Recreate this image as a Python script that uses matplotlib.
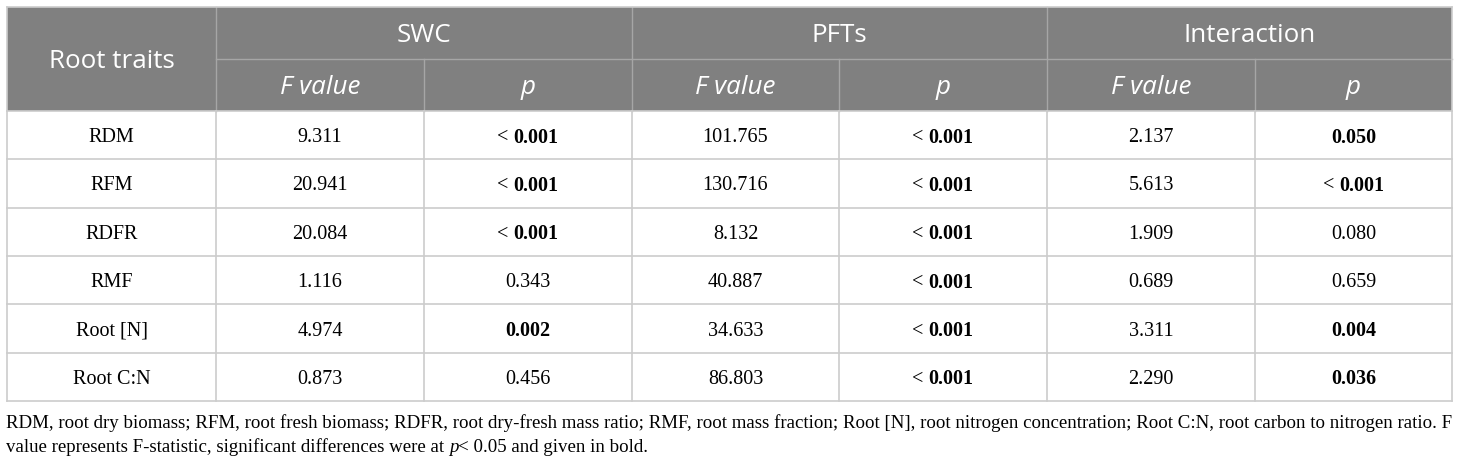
import matplotlib.pyplot as plt

traits = ["RDM", "RFM", "RDFR", "RMF", "Root [N]", "Root C:N"]
groups = ["SWC", "PFTs", "Interaction"]

swc_f = ["9.311", "20.941", "20.084", "1.116", "4.974", "0.873"]
swc_p = ["< 0.001", "< 0.001", "< 0.001", "0.343", "0.002", "0.456"]
swc_bold = [True, True, True, False, True, False]

pft_f = ["101.765", "130.716", "8.132", "40.887", "34.633", "86.803"]
pft_p = ["< 0.001", "< 0.001", "< 0.001", "< 0.001", "< 0.001", "< 0.001"]
pft_bold = [True, True, True, True, True, True]

int_f = ["2.137", "5.613", "1.909", "0.689", "3.311", "2.290"]
int_p = ["0.050", "< 0.001", "0.080", "0.659", "0.004", "0.036"]
int_bold = [True, True, False, False, True, True]

caption1 = ("RDM, root dry biomass; RFM, root fresh biomass; RDFR, root dry-fresh mass ratio; "
            "RMF, root mass fraction; Root [N], root nitrogen concentration; "
            "Root C:N, root carbon to nitrogen ratio. F")
caption2a = "value represents F-statistic, significant differences were at "
caption2b = "p"
caption2c = "< 0.05 and given in bold."

W, H = 1460, 463
fig = plt.figure(figsize=(W / 100, H / 100), dpi=100)
ax = fig.add_axes([0, 0, 1, 1])
ax.set_xlim(0, W)
ax.set_ylim(H, 0)
ax.axis("off")

col_x = [7, 216, 424, 632, 839, 1047, 1255, 1452]
top, mid, head_bot = 7, 59, 111
row_h = (401 - head_bot) / len(traits)
row_y = [head_bot + i * row_h for i in range(len(traits) + 1)]

head_bg = "#808080"
grid = "#cccccc"
head_line = "#a6a6a6"
sans = "Open Sans"
serif = "Liberation Serif"
hsize = 18.7
csize = 14.5

# header background
ax.add_patch(plt.Rectangle((col_x[0], top), col_x[-1] - col_x[0], head_bot - top,
                           facecolor=head_bg, edgecolor="none", zorder=1))
# header lines
ax.plot([col_x[1], col_x[-1]], [mid, mid], color=head_line, lw=1, zorder=2)
for i, x in enumerate(col_x[1:-1], start=1):
    y0 = top if i % 2 == 1 else mid
    ax.plot([x, x], [y0, head_bot], color=head_line, lw=1, zorder=2)

# body lines
for y in row_y:
    ax.plot([col_x[0], col_x[-1]], [y, y], color=grid, lw=1.2, zorder=2)
for x in col_x:
    ax.plot([x, x], [head_bot, row_y[-1]], color=grid, lw=1.2, zorder=2)
ax.plot([col_x[0], col_x[-1]], [top, top], color=grid, lw=1.2, zorder=2)
ax.plot([col_x[0], col_x[0]], [top, head_bot], color=grid, lw=1.2, zorder=2)
ax.plot([col_x[-1], col_x[-1]], [top, head_bot], color=grid, lw=1.2, zorder=2)

# header text
ax.text((col_x[0] + col_x[1]) / 2, (top + head_bot) / 2, "Root traits", color="white",
        fontsize=hsize, family=sans, ha="center", va="center_baseline", zorder=3)
for g, name in enumerate(groups):
    x0, x1 = col_x[1 + 2 * g], col_x[3 + 2 * g]
    ax.text((x0 + x1) / 2, (top + mid) / 2, name, color="white", fontsize=hsize,
            family=sans, ha="center", va="center_baseline", zorder=3)
    for k, lab in enumerate(["F value", "p"]):
        xa, xb = col_x[1 + 2 * g + k], col_x[2 + 2 * g + k]
        ax.text((xa + xb) / 2, (mid + head_bot) / 2, lab, color="white", fontsize=hsize,
                family=sans, style="italic", ha="center", va="center_baseline", zorder=3)

fig.canvas.draw()
renderer = fig.canvas.get_renderer()


def p_cell(xc, yc, s, bold):
    if s.startswith("<"):
        num = s[2:]
        t1 = ax.text(0, yc, "< ", fontsize=csize, family=serif, va="center_baseline")
        t2 = ax.text(0, yc, num, fontsize=csize, family=serif, weight="bold" if bold else "normal",
                     va="center_baseline")
        w1 = t1.get_window_extent(renderer).width
        w2 = t2.get_window_extent(renderer).width
        x0 = xc - (w1 + w2) / 2
        t1.set_x(x0)
        t2.set_x(x0 + w1)
    else:
        ax.text(xc, yc, s, fontsize=csize, family=serif, weight="bold" if bold else "normal",
                ha="center", va="center_baseline")


cols_f = [swc_f, pft_f, int_f]
cols_p = [swc_p, pft_p, int_p]
cols_b = [swc_bold, pft_bold, int_bold]
for i, tr in enumerate(traits):
    yc = (row_y[i] + row_y[i + 1]) / 2
    ax.text((col_x[0] + col_x[1]) / 2, yc, tr, fontsize=csize, family=serif,
            ha="center", va="center_baseline")
    for g in range(3):
        xf = (col_x[1 + 2 * g] + col_x[2 + 2 * g]) / 2
        xp = (col_x[2 + 2 * g] + col_x[3 + 2 * g]) / 2
        ax.text(xf, yc, cols_f[g][i], fontsize=csize, family=serif,
                ha="center", va="center_baseline")
        p_cell(xp, yc, cols_p[g][i], cols_b[g][i])

# caption
ax.text(6, 428, caption1, fontsize=13.6, family=serif, va="baseline")
c1 = ax.text(6, 452, caption2a, fontsize=13.6, family=serif, va="baseline")
w = c1.get_window_extent(renderer).width
c2 = ax.text(6 + w, 452, caption2b, fontsize=13.6, family=serif, style="italic", va="baseline")
w2 = c2.get_window_extent(renderer).width
ax.text(6 + w + w2, 452, caption2c, fontsize=13.6, family=serif, va="baseline")

fig.savefig("out.png", dpi=100)
